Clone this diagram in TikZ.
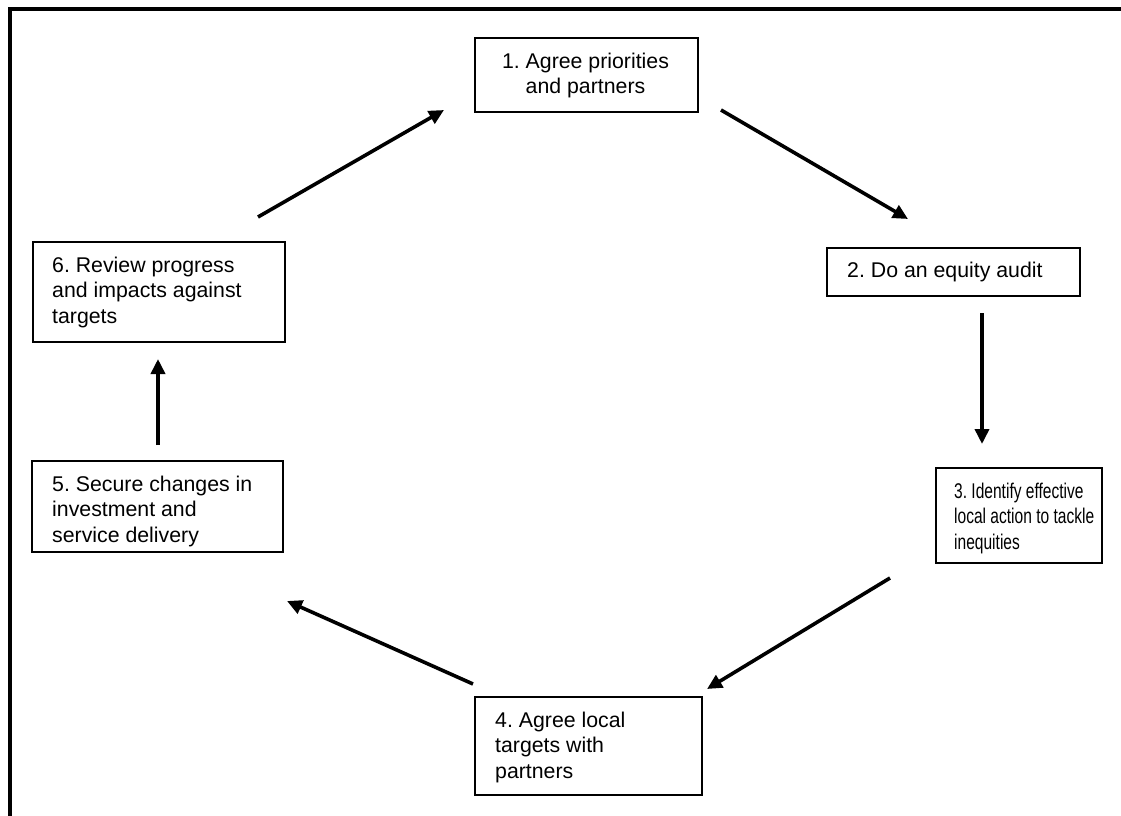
\documentclass[tikz,border=0pt]{standalone}
\usepackage{fontspec}
\setmainfont{Liberation Sans}
\usetikzlibrary{arrows.meta}
\begin{document}
\frenchspacing
\begin{tikzpicture}[x=1pt,y=-1pt,
  stepbox/.style={draw=black,line width=1.6pt,rectangle,inner sep=0pt,anchor=north west},
  steptext/.style={anchor=base west,inner sep=0pt,align=left,font=\fontsize{21.3}{25.5}\selectfont},
  flow/.style={line width=3.6pt,-{Triangle[length=15pt,width=14pt]}}]
\useasboundingbox (0,0) rectangle (1121,816);
\draw[line width=4pt] (9.5,816) -- (9.5,9.5) -- (1121,9.5);
% boxes
\node[stepbox,minimum width=223pt,minimum height=74pt] (b1) at (474,37) {};
\node[stepbox,minimum width=253pt,minimum height=48pt] (b2) at (826,247) {};
\node[stepbox,minimum width=166pt,minimum height=95pt] (b3) at (935,467) {};
\node[stepbox,minimum width=227pt,minimum height=98pt] (b4) at (474,696) {};
\node[stepbox,minimum width=251pt,minimum height=91pt] (b5) at (31,460) {};
\node[stepbox,minimum width=252pt,minimum height=100pt] (b6) at (32,241) {};
% texts (anchored at the baseline of the last line)
\node[steptext,anchor=base,align=center] (t1) at (585.5,93.5) {1. Agree priorities\\and partners};
\node[steptext] (t2) at (847,277) {2. Do an equity audit};
\node[steptext] (t3) at (954,549)
  {\scalebox{0.73}[1]{\begin{tabular}[b]{@{}l@{}}3. Identify effective\\local action to tackle\\inequities\end{tabular}}};
\node[steptext] (t4) at (495,778) {4. Agree local\\targets with\\partners};
\node[steptext] (t5) at (52,542) {5. Secure changes in\\investment and\\service delivery};
\node[steptext] (t6) at (52,323) {6. Review progress\\and impacts against\\targets};
% arrow ends
\coordinate (a1s) at (721,110); \coordinate (a1e) at (908,219);
\coordinate (a2s) at (982,313); \coordinate (a2e) at (982,444);
\coordinate (a3s) at (890,578); \coordinate (a3e) at (707,689);
\coordinate (a4s) at (473,684); \coordinate (a4e) at (287,601);
\coordinate (a5s) at (158,445); \coordinate (a5e) at (158,359);
\coordinate (a6s) at (258,217); \coordinate (a6e) at (444,110);
\draw[flow] (a1s) -- (a1e);
\draw[flow] (a2s) -- (a2e);
\draw[flow] (a3s) -- (a3e);
\draw[flow] (a4s) -- (a4e);
\draw[flow] (a5s) -- (a5e);
\draw[flow] (a6s) -- (a6e);
\end{tikzpicture}
\end{document}
